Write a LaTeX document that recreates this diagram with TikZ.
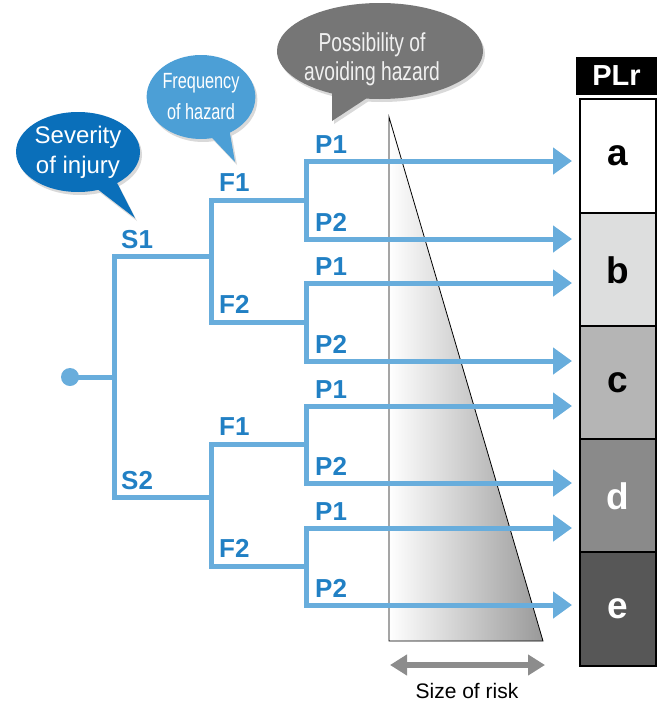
\documentclass[tikz,border=0pt]{standalone}
\usepackage{fontspec}
\setmainfont{Liberation Sans}
\newfontfamily\narrowfont[FakeStretch=0.74]{Liberation Sans}
\usetikzlibrary{arrows.meta}
\usetikzlibrary{shapes.callouts}
\usetikzlibrary{shadows}

\definecolor{branchblue}{RGB}{104,173,220}
\definecolor{labelblue}{RGB}{33,128,196}
\definecolor{sevblue}{RGB}{10,111,186}
\definecolor{freqblue}{RGB}{76,159,214}
\definecolor{possgray}{RGB}{118,118,118}
\definecolor{plrb}{RGB}{221,222,222}
\definecolor{plrc}{RGB}{181,181,181}
\definecolor{plrd}{RGB}{138,138,138}
\definecolor{plre}{RGB}{87,87,87}
\definecolor{riskgray}{RGB}{140,140,140}

\begin{document}
\begin{tikzpicture}[
        x={(1pt,0pt)}, y={(0pt,-1pt)},
        branch/.style={draw=branchblue, line width=5pt, line cap=rect},
        arr/.style={branch, line cap=butt, -{Triangle[length=19pt, width=26pt]}, shorten >=7pt},
        lbl/.style={anchor=base west, inner sep=0pt, text=labelblue,
                font=\fontsize{26}{26}\selectfont\bfseries},
        bubble/.style={ellipse callout, inner sep=0pt, align=center, callout pointer arc=20,
                drop shadow={opacity=0.3, shadow xshift=2pt, shadow yshift=-3pt}},
        plr/.style={draw=black, line width=2pt, minimum width=76pt, minimum height=113.5pt,
                font=\fontsize{37}{37}\selectfont\bfseries}
    ]

    \useasboundingbox (0,0) rectangle (662,702);

    % size of risk
    \coordinate (rtop) at (389,117);
    \coordinate (rbl) at (389,641);
    \coordinate (rbr) at (543,641);
    \shade[left color=white, right color=black!40] (rtop) -- (rbl) -- (rbr) -- cycle;
    \draw[black, line width=0.8pt] (rtop) -- (rbl) -- (rbr) -- cycle;

    \coordinate (riskl) at (390,665);
    \coordinate (riskr) at (545,665);
    \draw[riskgray, line width=6pt,
        {Triangle[length=17pt, width=20pt]}-{Triangle[length=17pt, width=20pt]}] (riskl) -- (riskr);
    \node[anchor=base, inner sep=0pt, font=\fontsize{21}{21}\selectfont] (risk) at (467,698) {Size of risk};

    % PLr column
    \node[fill=black, text=white, minimum width=81pt, minimum height=38pt, inner sep=0pt,
        font=\fontsize{29}{29}\selectfont\bfseries] (plrhead) at (616.5,76) {PLr};
    \foreach \n/\y/\f/\t in {a/156/white/black, b/270/plrb/black, c/383/plrc/black,
            d/496/plrd/white, e/609/plre/white}
        \node[plr, fill=\f, text=\t] (plr\n) at (618,\y) {\n};

    % tree
    \coordinate (root) at (70,377);
    \coordinate (S1) at (114,256);
    \coordinate (S2) at (114,497);
    \coordinate (F11) at (211,200);
    \coordinate (F12) at (211,322);
    \coordinate (F21) at (211,444);
    \coordinate (F22) at (211,566);
    \foreach \p/\y in {P111/161, P112/239, P121/283, P122/361,
            P211/406, P212/483, P221/528, P222/605}
        \coordinate (\p) at (306,\y);

    \fill[branchblue] (root) circle (9pt);
    \draw[branch] (root) -- (root -| S1);
    \draw[branch] (S1) -- (S2)
        \foreach \a/\b in {S1/F11, S2/F21} {
                (\a) -- (\a -| \b)
            };
    \draw[branch] (F11) -- (F12) (F21) -- (F22)
        \foreach \a in {F11, F12, F21, F22} {
                (\a) -- (\a -| P111)
            };
    \draw[branch] (P111) -- (P112) (P121) -- (P122) (P211) -- (P212) (P221) -- (P222);
    \foreach \p in {P111, P112, P121, P122, P211, P212, P221, P222}
        \draw[arr] (\p) -- (\p -| plra.west);

    % labels
    \node[lbl] (s1) at (121,248) {S1};
    \node[lbl] (s2) at (121,489) {S2};
    \foreach \i/\y/\t in {1/191/F1, 2/313/F2, 3/435/F1, 4/557/F2}
        \node[lbl] (f\i) at (219,\y) {\t};
    \foreach \i/\y/\t in {1/153/P1, 2/231/P2, 3/275/P1, 4/353/P2,
            5/398/P1, 6/475/P2, 7/520/P1, 8/597/P2}
        \node[lbl] (p\i) at (315,\y) {\t};

    % bubbles
    \coordinate (sevtip) at (135,218);
    \coordinate (freqtip) at (235,162);
    \coordinate (posstip) at (332,121);
    \node[bubble, fill=sevblue, text=white, minimum width=124pt, minimum height=80pt,
        callout absolute pointer=(sevtip), font=\fontsize{24}{30}\selectfont] (severity) at (78,152)
        {Severity\\of injury};
    \node[bubble, fill=freqblue, text=white, minimum width=108pt, minimum height=84pt,
        callout absolute pointer=(freqtip), font=\narrowfont\fontsize{22}{31}\selectfont] (frequency) at (201,97)
        {Frequency\\of hazard};
    \node[bubble, fill=possgray, minimum width=206pt, minimum height=96pt,
        callout absolute pointer=(posstip)] (possibility) at (380,51) {};
    \node[align=center, text=black!6, font=\narrowfont\fontsize{26}{29}\selectfont] (posstext) at (372,59)
        {Possibility of\\avoiding hazard};

\end{tikzpicture}
\end{document}
